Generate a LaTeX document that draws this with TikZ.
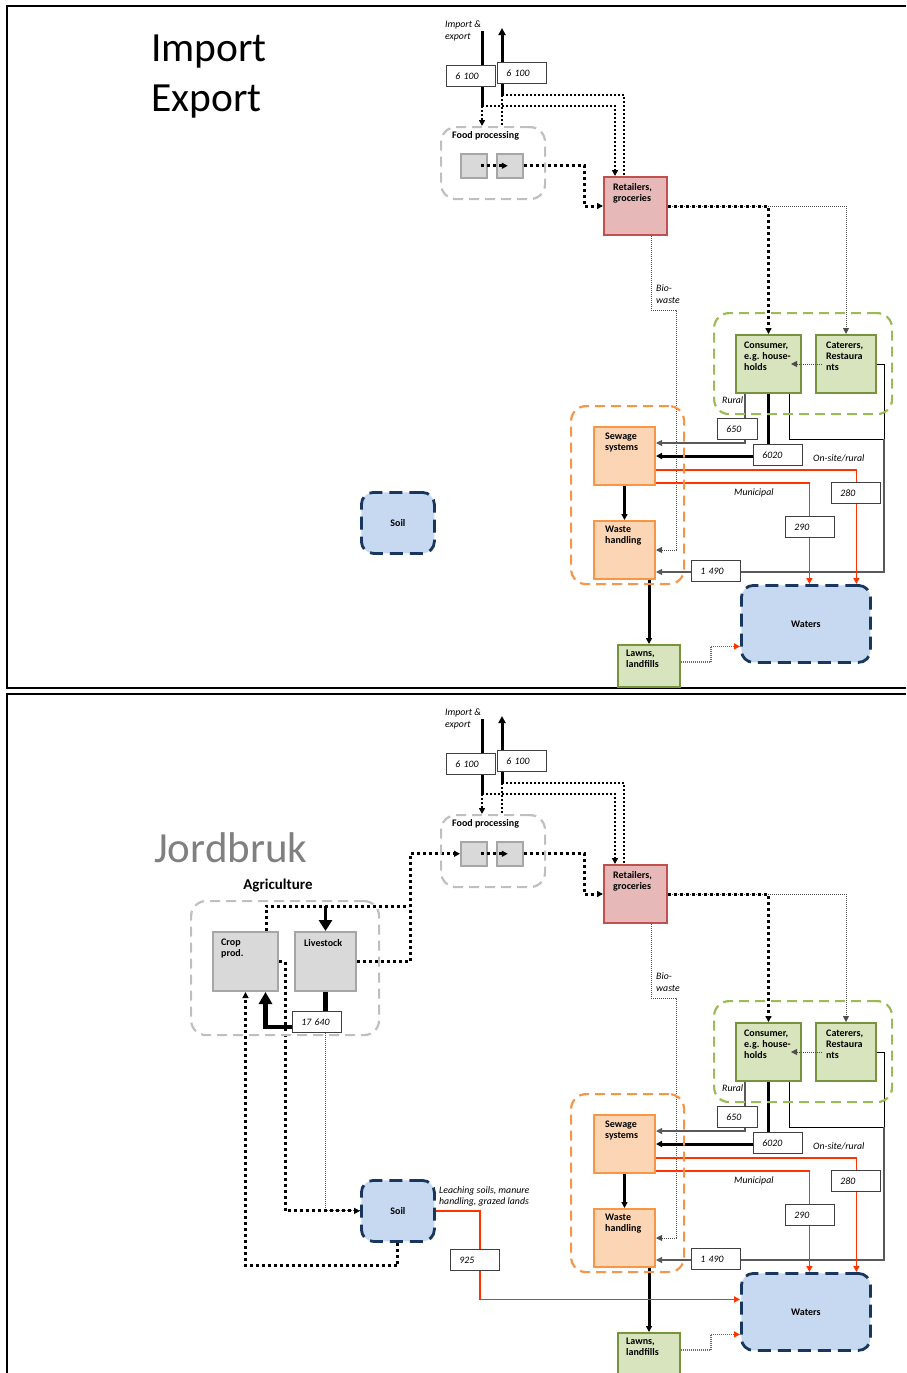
\documentclass[tikz,border=0pt]{standalone}
\usepackage{fontspec}
\setmainfont{Carlito}
\usetikzlibrary{arrows.meta}
\pgfdeclarelayer{bg}
\pgfsetlayers{bg,main}
\definecolor{retfill}{HTML}{E6B9B8}
\definecolor{retdraw}{HTML}{C0504D}
\definecolor{grnfill}{HTML}{D7E4BD}
\definecolor{grndraw}{HTML}{77933C}
\definecolor{grncont}{HTML}{9BBB59}
\definecolor{orgfill}{HTML}{FCD5B5}
\definecolor{orgdraw}{HTML}{F79646}
\definecolor{blufill}{HTML}{C6D9F1}
\definecolor{bludraw}{HTML}{17375E}
\definecolor{gryfill}{HTML}{D9D9D9}
\definecolor{grydraw}{HTML}{A6A6A6}
\definecolor{grycont}{HTML}{BFBFBF}
\definecolor{redline}{HTML}{FF3300}
\definecolor{jgray}{HTML}{808080}
\tikzset{
 fr/.style={line width=2.2pt},
 bx/.style={anchor=north west, inner sep=0pt, line width=2pt},
 retbx/.style={bx, draw=retdraw, fill=retfill},
 grnbx/.style={bx, draw=grndraw, fill=grnfill},
 orgbx/.style={bx, draw=orgdraw, fill=orgfill},
 grybx/.style={bx, draw=grydraw, fill=gryfill},
 blubx/.style={bx, draw=bludraw, fill=blufill, line width=2.8pt, dash pattern=on 13pt off 7pt, rounded corners=12pt},
 cont/.style={bx, line width=2.2pt, rounded corners=15pt, dash pattern=on 10pt off 6pt},
 lbl/.style={anchor=north west, inner sep=0pt, align=left, font=\bfseries\fontsize{10}{11}\selectfont},
 itl/.style={anchor=north west, inner sep=0pt, align=left, font=\itshape\fontsize{9.8}{11.5}\selectfont},
 num/.style={draw=black!75, fill=white, line width=0.9pt, anchor=north west, inner xsep=9pt, inner ysep=0pt, minimum height=21pt, text width=31pt, align=left, font=\itshape\fontsize{9.8}{11}\selectfont},
 tip/.style={-{Triangle[length=6pt,width=6pt]}},
 thk/.style={line width=3pt},
 dotA/.style={line width=2pt, dash pattern=on 2pt off 2pt},
 dotB/.style={line width=3pt, dash pattern=on 3pt off 3pt},
 dotC/.style={line width=0.9pt, dash pattern=on 1pt off 1pt, draw=black!70},
 thn/.style={line width=1pt},
 gln/.style={line width=1.1pt, draw=black!65},
 rln/.style={line width=1.5pt, draw=redline},
 rdot/.style={line width=1.2pt, draw=redline, dash pattern=on 1pt off 1pt},
}
\newcommand\commonpanel[1]{%
 \node[itl] (#1ie) at (445,21) {Import \&\\export};
 \node[num] (#1nI) at (446,65) {6 100};
 \node[num] (#1nE) at (497,62) {6 100};
 \coordinate (#1iTop) at (482,31);
 \coordinate (#1eTop) at (502,28);
 \coordinate (#1iJ) at (482,106);
 \coordinate (#1eJ) at (502,95);
 \node[cont, draw=grycont, minimum width=104pt, minimum height=72pt] (#1fp) at (440,126) {};
 \node[lbl] (#1fpl) at (452,131) {Food processing};
 \node[grybx, line width=1.5pt, minimum width=26pt, minimum height=24pt] (#1fa) at (460,153) {};
 \node[grybx, line width=1.5pt, minimum width=26pt, minimum height=24pt] (#1fb) at (496,153) {};
 \node[retbx, minimum width=63pt, minimum height=58pt] (#1ret) at (603,176) {};
 \node[lbl] (#1retl) at (613,183) {Retailers,\\groceries};
 \node[cont, draw=grncont, minimum width=178pt, minimum height=101pt] (#1gc) at (713,312) {};
 \node[grnbx, minimum width=65pt, minimum height=58pt] (#1con) at (735,334) {};
 \node[lbl] (#1conl) at (744,342) {Consumer,\\e.g. house-\\holds};
 \node[grnbx, minimum width=60pt, minimum height=58pt] (#1cat) at (815,334) {};
 \node[lbl] (#1catl) at (826,342) {Caterers,\\Restaura\\nts};
 \node[cont, draw=orgdraw, minimum width=113pt, minimum height=178pt] (#1oc) at (570,405) {};
 \node[orgbx, minimum width=61pt, minimum height=58pt] (#1sew) at (593,426) {};
 \node[lbl] (#1sewl) at (605,433) {Sewage\\systems};
 \node[orgbx, minimum width=61pt, minimum height=58pt] (#1wst) at (593,520) {};
 \node[lbl] (#1wstl) at (605,526) {Waste\\handling};
 \node[blubx, minimum width=129pt, minimum height=77pt] (#1wat) at (740,584) {};
 \node[lbl, anchor=center] (#1watl) at (#1wat.center) {Waters};
 \node[grnbx, minimum width=62pt, minimum height=42pt] (#1lawn) at (617,644) {};
 \node[lbl] (#1lawnl) at (626,650) {Lawns,\\landfills};
 \node[blubx, minimum width=73pt, minimum height=61pt] (#1soil) at (360,491) {};
 \node[lbl, anchor=center] (#1soill) at (#1soil.center) {Soil};
 \node[itl] (#1bwl) at (656,285) {Bio-\\waste};
 \node[itl] (#1rur) at (722,396) {Rural};
 \node[itl] (#1osr) at (813,454) {On-site/rural};
 \node[itl] (#1mun) at (734,488) {Municipal};
 \node[num, text width=22pt] (#1nA) at (717,418) {650};
 \node[num] (#1nB) at (753,444) {6020};
 \node[num] (#1nC) at (831,482) {280};
 \node[num] (#1nD) at (785,516) {290};
 \node[num] (#1nF) at (691,560) {1 490};
 \coordinate (#1rail) at (884,439);
 \coordinate (#1bw) at (676,310);
 \draw[dotB,tip] ([xshift=7pt]#1fa.center) -- ([xshift=-2pt]#1fb.center);
 \draw[dotC,tip] ([xshift=7pt]#1cat.west) -- ([xshift=-11pt]#1con.east);
 \begin{pgfonlayer}{bg}
  \draw[thk] (#1iTop) -- (#1iJ);
  \draw[thk, -{Triangle[length=7pt,width=7pt]}] (#1eJ) -- (#1eTop);
  \draw[dotA,tip] (#1iJ) -| ([xshift=-20.5pt]#1ret.north);
  \draw[dotA] (#1eJ) -| ([xshift=-11.5pt]#1ret.north);
  \draw[dotA,tip] (#1iJ) -- (#1iJ |- #1fp.north);
  \draw[dotA] (#1eJ) -- (#1eJ |- #1fp.north);
  \draw[dotB,tip] (#1fb.east) -- ++(61,0) |- (#1ret.west);
  \draw[dotC,tip] (#1ret.east) -| (#1cat.north);
  \draw[dotB,tip] (#1ret.east) -| (#1con.north);
  \draw[dotC,tip] ([xshift=15.5pt]#1ret.south) |- (#1bw) |- (#1wst.east);
  \draw[gln,tip] ([xshift=10pt]#1con.south west) |- ([yshift=13pt]#1sew.east);
  \draw[thk,tip] (#1con.south) |- (#1sew.east);
  \draw[thn] ([xshift=-13pt]#1con.south east) |- (#1rail);
  \draw[thn] (#1cat.east) -| (#1rail);
  \draw[gln,tip] (#1rail) |- ([yshift=-22pt]#1wst.east);
  \draw[rln,tip] ([yshift=-14pt]#1sew.east) -| ([xshift=50.5pt]#1wat.north);
  \draw[rln,tip] ([yshift=-27pt]#1sew.east) -| ([xshift=3.5pt]#1wat.north);
  \draw[thk,tip] (#1sew.south) -- (#1wst.north);
  \draw[thk,tip] (#1wst.south -| #1lawn.north) -- (#1lawn.north);
  \draw[rdot,tip] ([yshift=4pt]#1lawn.east) -- ++(30,0) |- ([yshift=-22.5pt]#1wat.west);
 \end{pgfonlayer}
}
\begin{document}
\begin{tikzpicture}[x=1pt,y=-1pt]
\useasboundingbox (0,0) rectangle (906,1373);
\draw[fr] (906,6) -| (7,688) -- (906,688);
\draw[fr] (906,694) -| (7,1373);
% top panel
\node[font=\fontsize{41.5}{50}\selectfont, anchor=base west, inner sep=0pt] (imp) at (151,61) {Import};
\node[font=\fontsize{41.5}{50}\selectfont, anchor=base west, inner sep=0pt] (exp) at (151,111) {Export};
\commonpanel{t}
% bottom panel
\begin{scope}[yshift=-688pt]
 \commonpanel{b}
 \node[font=\fontsize{43}{50}\selectfont, text=jgray, anchor=base west, inner sep=0pt] (jord) at (154,174) {Jordbruk};
 \node[font=\bfseries\fontsize{15}{17}\selectfont, anchor=base, inner sep=0pt] (agri) at (278,201) {Agriculture};
 \node[cont, draw=grycont, minimum width=188pt, minimum height=134pt] (agc) at (190,212) {};
 \node[grybx, minimum width=65pt, minimum height=59pt] (crop) at (212,243) {};
 \node[lbl] (cropl) at (221,251) {Crop\\prod.};
 \node[grybx, minimum width=61pt, minimum height=59pt] (live) at (294,243) {};
 \node[lbl] (livel) at (304,251) {Livestock};
 \node[num] (nG) at (292,323) {17 640};
 \node[num] (nH) at (450,561) {925};
 \node[itl] (leach) at (439,498) {Leaching soils, manure\\handling, grazed lands};
 \begin{pgfonlayer}{bg}
  \draw[dotB] ([xshift=20.5pt]crop.north) -- ++(0,-25) -- ++(143,0);
  \draw[line width=3pt, -{Triangle[length=11pt,width=13pt]}] ([yshift=25pt]live.north) -- (live.north);
  \draw[dotB,tip] (live.east) -- ++(53,0) |- (bfa.west);
  \draw[line width=4.5pt, -{Triangle[length=12pt,width=13pt]}] (live.south) -- ++(0,35) -| ([xshift=20pt]crop.south);
  \draw[dotC] ([xshift=8pt]nG.south) |- (bsoil.west);
  \draw[dotB,tip] (crop.east) -- ++(6,0) |- (bsoil.west);
  \draw[dotB,tip] (bsoil.south) -- ++(0,23) -| (crop.south);
  \draw[rln,tip] (bsoil.east) -- ++(44,0) |- ([yshift=12.5pt]bwat.west);
 \end{pgfonlayer}
\end{scope}
\end{tikzpicture}
\end{document}
